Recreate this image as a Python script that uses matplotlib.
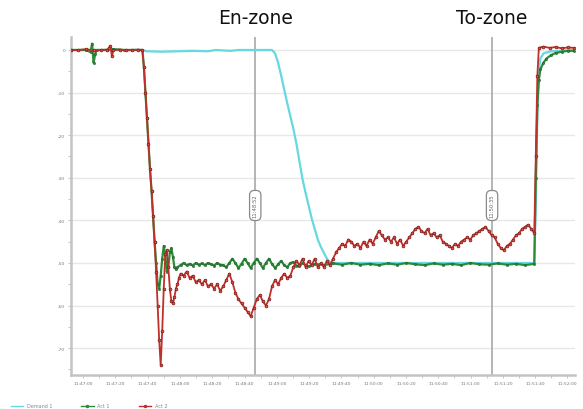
import matplotlib
matplotlib.use("Agg")
import matplotlib.pyplot as plt
from matplotlib.lines import Line2D
import numpy as np

# ---------------- data ----------------
red_t = [0, 5, 10, 15, 20, 24, 26, 27, 28, 32, 36, 40, 44, 47,
         48, 49, 50, 51, 52, 53, 54, 55, 56, 57, 58, 59, 60, 61, 62, 63, 64, 65, 66, 67, 68, 69, 70, 71, 72,
         74, 76, 78, 80, 82, 84, 86, 88, 90, 92, 94, 96, 98, 100, 102, 104, 106, 108, 110, 112, 114, 116,
         118, 120, 122, 124, 126, 128, 130, 132, 134, 136, 138, 140, 142, 144, 146, 148, 150, 152, 154, 156,
         158, 160, 162, 164, 166, 168, 170, 172, 174, 176, 178, 180, 182, 184, 186, 188, 190, 192, 194, 196,
         198, 200, 202, 204, 206, 208, 210, 212, 214, 216, 218, 220, 222, 224, 226, 228, 230, 232, 234, 236,
         238, 240, 242, 244, 246, 248, 250, 252, 254, 256, 258, 260, 262, 264, 266, 268, 270, 272, 274, 276,
         278, 280, 282, 284, 286, 288, 290, 292, 294, 296, 298, 300, 302, 304, 305, 306, 307, 310, 314, 318,
         322, 326, 330]
red_v = [0.0, 0.0, 0.02, -0.01, 0.0, 0.01, 0.1, -0.15, 0.0, 0.01, -0.01, 0.0, 0.01, 0.0,
         -0.4, -1.0, -1.6, -2.2, -2.8, -3.3, -3.9, -4.5, -5.2, -6.0, -6.8, -7.4, -6.6, -5.6, -4.8, -4.7, -5.1,
         -5.6, -5.9, -5.95, -5.8, -5.6, -5.5, -5.35, -5.25,
         -5.3, -5.2, -5.35, -5.3, -5.45, -5.4, -5.5, -5.4, -5.55, -5.5, -5.6, -5.5, -5.65, -5.55, -5.4, -5.25,
         -5.45, -5.7, -5.85, -5.95, -6.05, -6.15,
         -6.25, -6.05, -5.85, -5.75, -5.9, -6.0, -5.85, -5.55, -5.4, -5.5, -5.35, -5.25, -5.35, -5.3, -5.1,
         -4.95, -5.05, -4.9, -5.1, -4.95,
         -5.05, -4.9, -5.1, -5.0, -5.1, -4.95, -5.05, -4.9, -4.75, -4.65, -4.55, -4.6, -4.45, -4.5, -4.6,
         -4.55, -4.65, -4.5, -4.6, -4.45,
         -4.55, -4.4, -4.25, -4.35, -4.45, -4.4, -4.5, -4.4, -4.55, -4.45, -4.6, -4.5, -4.4, -4.3, -4.2,
         -4.15, -4.25, -4.3, -4.2, -4.35,
         -4.3, -4.4, -4.35, -4.5, -4.55, -4.6, -4.65, -4.55, -4.6, -4.5, -4.45, -4.4, -4.45, -4.35, -4.3,
         -4.25, -4.2, -4.15, -4.25, -4.35,
         -4.4, -4.55, -4.65, -4.7, -4.6, -4.55, -4.45, -4.35, -4.3, -4.2, -4.15, -4.1, -4.2, -4.3, -2.5,
         -0.6, 0.05, 0.08, 0.05, 0.07,
         0.04, 0.06, 0.05]

green_t = [0, 10, 13, 14, 15, 16, 17, 24, 28, 35, 40, 47,
           48, 49, 50, 51, 52, 53, 54, 55, 56, 57, 58, 59, 60, 61, 62, 63, 64, 65, 66, 67, 68, 69, 70, 72,
           74, 76, 78, 80, 82, 84, 86, 88, 90, 92, 94, 96, 98, 100, 102, 104, 106, 108, 110, 112, 114, 116,
           118, 120, 122, 124, 126, 128, 130, 132, 134, 136, 138, 140, 142, 144, 146, 148, 150, 152, 154, 156,
           160, 166, 172, 178, 184, 190, 196, 202, 208, 214, 220, 226, 232, 238, 244, 250, 256, 262, 268, 274,
           280, 286, 292, 298, 304,
           305, 306, 307, 308, 310, 312, 315, 318, 322, 326, 330]
green_v = [0, 0, -0.05, 0.15, -0.3, -0.1, 0, 0, 0.02, 0, 0, 0,
           -0.4, -1.0, -1.6, -2.2, -2.8, -3.3, -3.9, -4.5, -5.0, -5.5, -5.6, -5.3, -4.9, -4.6, -4.8, -5.2,
           -5.1, -4.75, -4.65, -4.85, -5.1, -5.15, -5.1, -5.05,
           -5.0, -5.05, -5.02, -5.06, -5.0, -5.04, -5.01, -5.05, -5.0, -5.03, -5.06, -5.0, -5.04, -5.05, -5.1,
           -5.0, -4.9, -5.0, -5.12, -5.02, -4.9, -5.0,
           -5.12, -5.0, -4.9, -5.0, -5.12, -5.0, -4.9, -5.02, -5.12, -5.03, -4.95, -5.05, -5.1, -5.0, -4.98,
           -5.06, -5.08, -5.0, -5.05, -5.08,
           -5.02, -5.05, -5.01, -5.04, -5.0, -5.04, -5.02, -5.05, -5.01, -5.04, -5.0, -5.03, -5.05, -5.01,
           -5.04, -5.02, -5.05, -5.0, -5.03, -5.04,
           -5.01, -5.04, -5.02, -5.05, -5.02,
           -3.0, -1.3, -0.7, -0.45, -0.3, -0.2, -0.12, -0.07, -0.04, -0.02, -0.02]

cyan_t = [0, 47, 50, 60, 70, 80, 90, 95, 100, 105, 110, 120, 130, 132, 134, 136, 138, 140, 142, 144, 146,
          148, 150, 152, 154, 156, 158, 160, 162, 164, 166, 168, 170, 172, 200, 250, 304, 305, 306, 307,
          308, 310, 315, 330]
cyan_v = [0, 0, -0.03, -0.04, -0.03, -0.02, -0.03, 0.0, -0.01, -0.02, 0.0, 0.0, 0.0, 0.0, -0.08, -0.3,
          -0.6, -0.93, -1.25, -1.55, -1.85, -2.2, -2.62, -3.03, -3.35, -3.65, -3.95, -4.2, -4.45, -4.62,
          -4.76, -4.9, -4.98, -5.0, -5.0, -5.0, -5.0, -3.5, -1.5, -0.5, -0.2, -0.08, -0.03, 0.0]

series_names = ["Demand 1", "Act 1", "Act 2"]
y_ticks = [0, -1, -2, -3, -4, -5, -6, -7]
y_labels = ["0", "-10", "-20", "-30", "-40", "-50", "-60", "-70"]
x_labels = ["11:47:00", "11:47:20", "11:47:40", "11:48:00", "11:48:20", "11:48:40", "11:49:00",
            "11:49:20", "11:49:40", "11:50:00", "11:50:20", "11:50:40", "11:51:00", "11:51:20",
            "11:51:40", "11:52:00"]
zone_t = [121, 276.3]
zone_names = ["En-zone", "To-zone"]
zone_stamps = ["11:48:52", "11:50:35"]

# ---------------- figure ----------------
fig = plt.figure(figsize=(5.83, 4.10), dpi=100)
ax = fig.add_axes([0.1213, 0.0829, 0.865, 0.8244])

cyan_c = "#66d8e0"
green_c = "#2e8b3a"
red_c = "#c0302a"

ax.plot(cyan_t, cyan_v, color=cyan_c, lw=1.6, zorder=3)
ax.plot(green_t, green_v, color=green_c, lw=1.6, marker="o", ms=1.6, mfc=green_c,
        mec="#1c5e26", mew=0.4, zorder=4)
ax.plot(red_t, red_v, color=red_c, lw=1.3, marker="o", ms=2.0, mfc="#d85050",
        mec="#7a1a16", mew=0.5, zorder=5)

ax.set_xlim(0, 330.7)
ax.set_ylim(-7.63, 0.305)

xt = [8.07 + 21.18 * k for k in range(len(x_labels))]
ax.set_xticks(xt)
ax.set_xticklabels(x_labels, fontsize=3.2, color="#777777")
ax.set_xticks([x + 10.59 for x in xt[:-1]], minor=True)
ax.set_yticks(y_ticks)
ax.set_yticklabels(y_labels, fontsize=3.2, color="#777777")
ax.set_yticks([v - 0.5 for v in y_ticks], minor=True)
ax.tick_params(axis="both", which="both", length=2, width=0.6, color="#bbbbbb", pad=2)

ax.grid(axis="y", which="major", color="#e8e8e8", lw=1.0)
ax.set_axisbelow(True)
for s in ["top", "right"]:
    ax.spines[s].set_visible(False)
for s in ["left", "bottom"]:
    ax.spines[s].set_color("#c4c4c4")
    ax.spines[s].set_linewidth(1.8)

# zone lines, stamps and titles
for t, name, stamp in zip(zone_t, zone_names, zone_stamps):
    ax.axvline(t, color="#a8a8a8", lw=1.2, zorder=2)
    ax.text(t, -3.65, stamp, rotation=90, fontsize=3.8, color="#666666",
            ha="center", va="center", zorder=6,
            bbox=dict(boxstyle="round,pad=0.6,rounding_size=0.9", fc="white", ec="#8a8a8a", lw=0.9))
    ax.annotate(name, xy=(t, 1), xycoords=("data", "axes fraction"),
                xytext=(0, 1 - 18.6 / 410), textcoords=("offset points", "figure fraction"),
                ha="center", va="center", fontsize=13.5, color="#111111")

# legend
handles = [Line2D([], [], color=cyan_c, lw=1.0),
           Line2D([], [], color=green_c, lw=1.0, marker="o", ms=1.5),
           Line2D([], [], color=red_c, lw=1.0, marker="o", ms=1.5)]
fig.legend(handles, series_names, loc="center left", bbox_to_anchor=(0.015, 1 - 407 / 410),
           ncol=3, fontsize=3.5, frameon=False, handlelength=2.5, columnspacing=6,
           labelcolor="#888888", borderaxespad=0)

fig.savefig("out.png", dpi=100)
